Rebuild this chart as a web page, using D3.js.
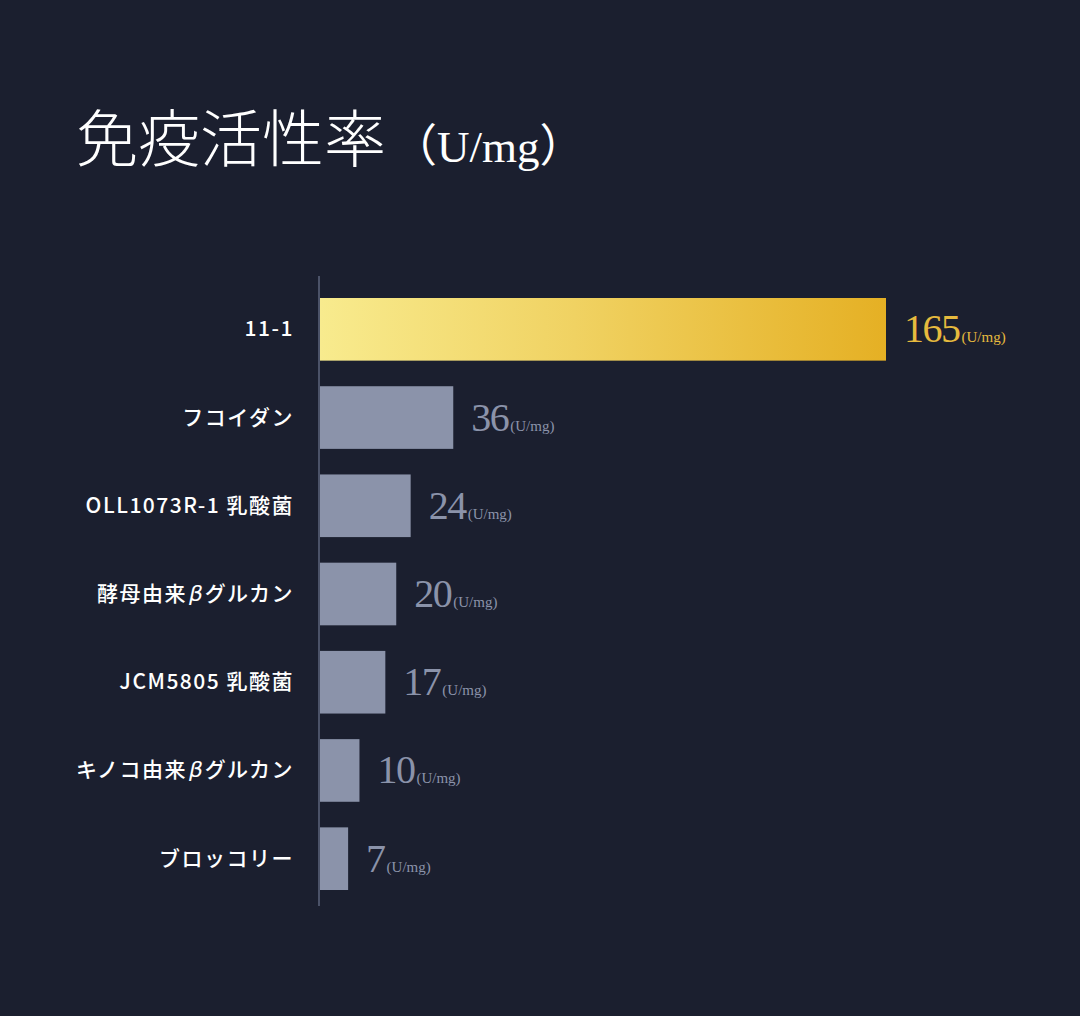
<!DOCTYPE html>
<html>
<head>
<meta charset="utf-8">
<script src="https://cdn.jsdelivr.net/npm/d3@7"></script>
<style>
  html, body { margin: 0; padding: 0; background: #1b1f2f; }
</style>
</head>
<body>
<div id="chart"></div>
<script>
'use strict';

// data
const categories = ['11-1', 'フコイダン', 'OLL1073R-1 乳酸菌', '酵母由来βグルカン', 'JCM5805 乳酸菌', 'キノコ由来βグルカン', 'ブロッコリー'];
const values = [165, 36, 24, 20, 17, 10, 7];
const unit = '(U/mg)';

const w = 1080;
const h = 1016;
const left = 320;

const svg = d3.select('#chart').append('svg')
  .attr('width', w)
  .attr('height', h)
  .style('display', 'block');

svg.append('rect')
  .attr('width', w)
  .attr('height', h)
  .attr('fill', '#1b1f2f');

// gold gradient for the top bar
const defs = svg.append('defs');
const grad = defs.append('linearGradient')
  .attr('id', 'gold')
  .attr('x1', '0%').attr('x2', '100%')
  .attr('y1', '0%').attr('y2', '0%');
grad.append('stop').attr('offset', '0%').attr('stop-color', '#f8eb8e');
grad.append('stop').attr('offset', '45%').attr('stop-color', '#f0d262');
grad.append('stop').attr('offset', '100%').attr('stop-color', '#e5b024');

// title
const title = svg.append('text')
  .attr('x', 76)
  .attr('y', 162)
  .attr('fill', '#ffffff');
title.append('tspan')
  .attr('font-family', '"Noto Sans CJK JP", sans-serif')
  .attr('font-weight', 300)
  .attr('font-size', 62)
  .text('免疫活性率');
title.append('tspan')
  .attr('font-family', '"Liberation Serif", "Noto Sans CJK JP", serif')
  .attr('font-size', 45)
  .attr('dx', 6)
  .text('（U/mg）');

// bars are slightly compressed toward the long one, like the original artwork
const x = d3.scalePow()
  .exponent(0.95)
  .domain([0, 165])
  .range([0, 566]);

const y = d3.scaleBand()
  .domain(categories)
  .range([298, 890])
  .paddingInner(0.29)
  .paddingOuter(0);

// axis line
svg.append('line')
  .attr('x1', left - 1).attr('x2', left - 1)
  .attr('y1', 276).attr('y2', 906)
  .attr('stroke', '#5d647c')
  .attr('stroke-width', 1.5);

const rows = svg.selectAll('g.row')
  .data(categories.map((c, i) => ({ c, v: values[i], i })))
  .enter()
  .append('g')
  .attr('class', 'row');

rows.append('rect')
  .attr('x', left)
  .attr('y', d => y(d.c))
  .attr('width', d => x(d.v))
  .attr('height', y.bandwidth())
  .attr('fill', d => d.i === 0 ? 'url(#gold)' : '#8b93aa');

// category labels (β set in italic like the original)
const labels = rows.append('text')
  .attr('x', left - 26)
  .attr('y', d => y(d.c) + y.bandwidth() / 2 + 7)
  .attr('text-anchor', 'end')
  .attr('fill', '#ffffff')
  .attr('font-family', '"Noto Sans CJK JP", sans-serif')
  .attr('font-weight', 500)
  .attr('font-size', 21)
  .attr('letter-spacing', 1.5);

labels.each(function (d) {
  const t = d3.select(this);
  d.c.split(/(β)/).filter(s => s).forEach(part => {
    const sp = t.append('tspan').text(part);
    if (part === 'β') {
      sp.attr('font-family', '"DejaVu Sans", sans-serif')
        .attr('font-style', 'italic')
        .attr('font-size', 22)
        .attr('dx', 2);
    }
  });
});

// value labels
const vt = rows.append('text')
  .attr('x', d => left + x(d.v) + 18)
  .attr('y', d => y(d.c) + y.bandwidth() / 2 + 13)
  .attr('fill', d => d.i === 0 ? '#e6ba3e' : '#8b93aa')
  .attr('font-family', '"Liberation Serif", serif');
vt.append('tspan')
  .attr('font-size', 40)
  .attr('letter-spacing', -1.5)
  .text(d => d.v);
vt.append('tspan')
  .attr('font-size', 15)
  .attr('dx', 2)
  .text(unit);
</script>
</body>
</html>
